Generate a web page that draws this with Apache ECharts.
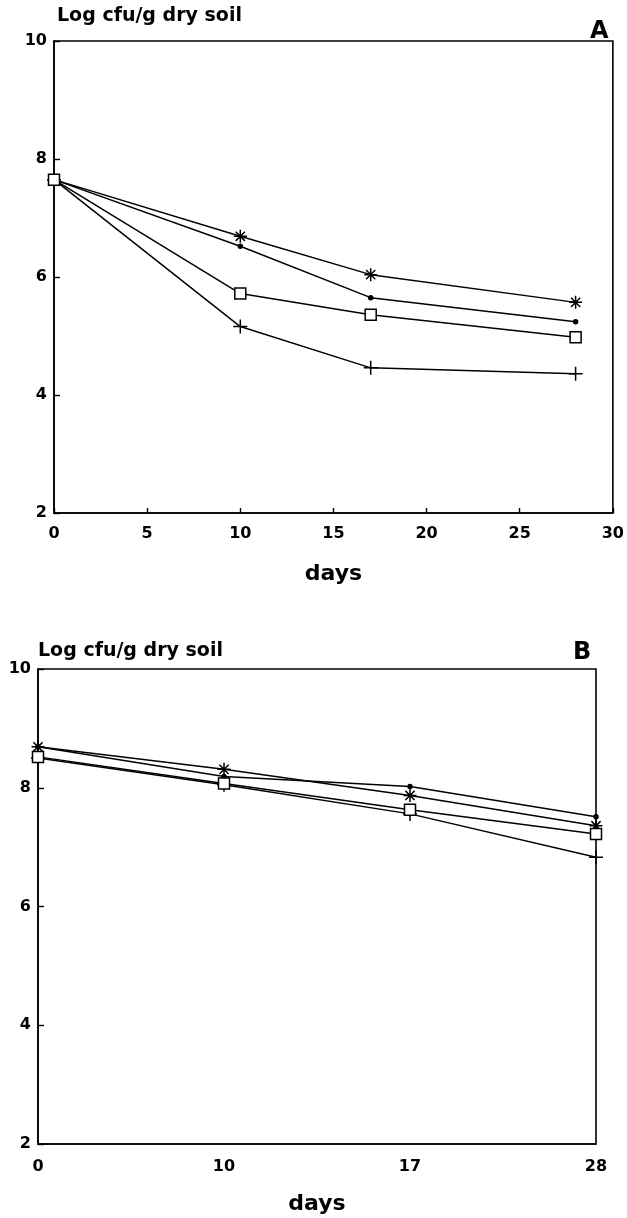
<!DOCTYPE html>
<html>
<head>
<meta charset="utf-8">
<script src="https://cdn.jsdelivr.net/npm/echarts@6/dist/echarts.min.js"></script>
<style>
html,body{margin:0;padding:0;background:#fff;}
#chart{width:627px;height:1218px;}
</style>
</head>
<body>
<div id="chart"></div>
<script>
// Panel A (x = days, numeric)
const daysA = [0, 10, 17, 28];
const aStar   = [7.65, 6.69, 6.04, 5.57];
const aDot    = [7.65, 6.52, 5.65, 5.24];
const aSquare = [7.65, 5.72, 5.36, 4.98];
const aPlus   = [7.65, 5.16, 4.46, 4.36];

// Panel B (x = sampling days, equally spaced categories)
const daysB = ['0', '10', '17', '28'];
const bStar   = [8.69, 8.31, 7.87, 7.36];
const bDot    = [8.69, 8.19, 8.02, 7.51];
const bSquare = [8.52, 8.07, 7.63, 7.22];
const bPlus   = [8.50, 8.05, 7.56, 6.83];

const yTicks = [2, 4, 6, 8, 10];
const yTitle = 'Log cfu/g dry soil';
const xTitle = 'days';

const FONT = 'DejaVu Sans';
const STAR = 'path://M0,-10L0,10M-10,0L10,0M-7.07,-7.07L7.07,7.07M-7.07,7.07L7.07,-7.07';
const PLUS = 'path://M0,-10L0,10M-10,0L10,0';

function mk(name, data, xi, symbol, size, fill) {
  return {
    type: 'line', name: name, xAxisIndex: xi, yAxisIndex: xi,
    data: data, symbol: symbol, symbolSize: size, showSymbol: true,
    lineStyle: {color: '#000', width: 1.5},
    itemStyle: {color: fill, borderColor: '#000', borderWidth: 1.5},
    emphasis: {disabled: true}, animation: false, z: symbol === 'rect' ? 4 : 3
  };
}

const pairsA = (arr) => daysA.map((d, i) => [d, arr[i]]);

const yAxisCommon = {
  type: 'value', min: 2, max: 10, interval: 2,
  axisLine: {show: true, lineStyle: {color: '#000', width: 1.6}},
  axisTick: {show: true, inside: true, length: 6, lineStyle: {color: '#000', width: 1.4}},
  axisLabel: {color: '#000', fontFamily: FONT, fontWeight: 'bold', fontSize: 16, margin: 7,
    formatter: (v) => yTicks.includes(v) ? String(v) : ''},
  splitLine: {show: false}
};

const option = {
  backgroundColor: '#fff',
  animation: false,
  grid: [
    {left: 54, top: 41, width: 559, height: 472, show: true, borderColor: '#000', borderWidth: 1.6, backgroundColor: 'transparent'},
    {left: 38, top: 669, width: 558, height: 475, show: true, borderColor: '#000', borderWidth: 1.6, backgroundColor: 'transparent'}
  ],
  xAxis: [
    {type: 'value', gridIndex: 0, min: 0, max: 30, interval: 5,
     axisLine: {show: true, onZero: false, lineStyle: {color: '#000', width: 1.6}},
     axisTick: {show: true, inside: true, length: 5, lineStyle: {color: '#000', width: 1.4}},
     axisLabel: {color: '#000', fontFamily: FONT, fontWeight: 'bold', fontSize: 16, margin: 13},
     splitLine: {show: false},
     name: xTitle, nameLocation: 'middle', nameGap: 50,
     nameTextStyle: {color: '#000', fontFamily: FONT, fontWeight: 'bold', fontSize: 22}},
    {type: 'category', gridIndex: 1, data: daysB, boundaryGap: false,
     axisLine: {show: true, onZero: false, lineStyle: {color: '#000', width: 1.6}},
     axisTick: {show: false},
     axisLabel: {color: '#000', fontFamily: FONT, fontWeight: 'bold', fontSize: 16, margin: 15},
     splitLine: {show: false},
     name: xTitle, nameLocation: 'middle', nameGap: 49,
     nameTextStyle: {color: '#000', fontFamily: FONT, fontWeight: 'bold', fontSize: 22}}
  ],
  yAxis: [
    Object.assign({gridIndex: 0}, yAxisCommon),
    Object.assign({gridIndex: 1}, yAxisCommon)
  ],
  graphic: [
    {type: 'text', left: 57, top: 7, style: {text: yTitle, fill: '#000', font: 'bold 19px "DejaVu Sans"'}},
    {type: 'text', left: 590, top: 20, style: {text: 'A', fill: '#000', font: '900 24px "DejaVu Sans"'}},
    {type: 'text', left: 38, top: 642, style: {text: yTitle, fill: '#000', font: 'bold 19px "DejaVu Sans"'}},
    {type: 'text', left: 573, top: 641, style: {text: 'B', fill: '#000', font: '900 24px "DejaVu Sans"'}}
  ],
  series: [
    mk('star A', pairsA(aStar), 0, STAR, 13, 'transparent'),
    mk('dot A', pairsA(aDot), 0, 'circle', 4, '#000'),
    mk('square A', pairsA(aSquare), 0, 'rect', 11, '#fff'),
    mk('plus A', pairsA(aPlus), 0, PLUS, 14, 'transparent'),
    mk('star B', bStar, 1, STAR, 13, 'transparent'),
    mk('dot B', bDot, 1, 'circle', 4, '#000'),
    mk('square B', bSquare, 1, 'rect', 11, '#fff'),
    mk('plus B', bPlus, 1, PLUS, 14, 'transparent')
  ]
};

const chart = echarts.init(document.getElementById('chart'), null, {renderer: 'canvas'});
chart.setOption(option);
</script>
</body>
</html>
